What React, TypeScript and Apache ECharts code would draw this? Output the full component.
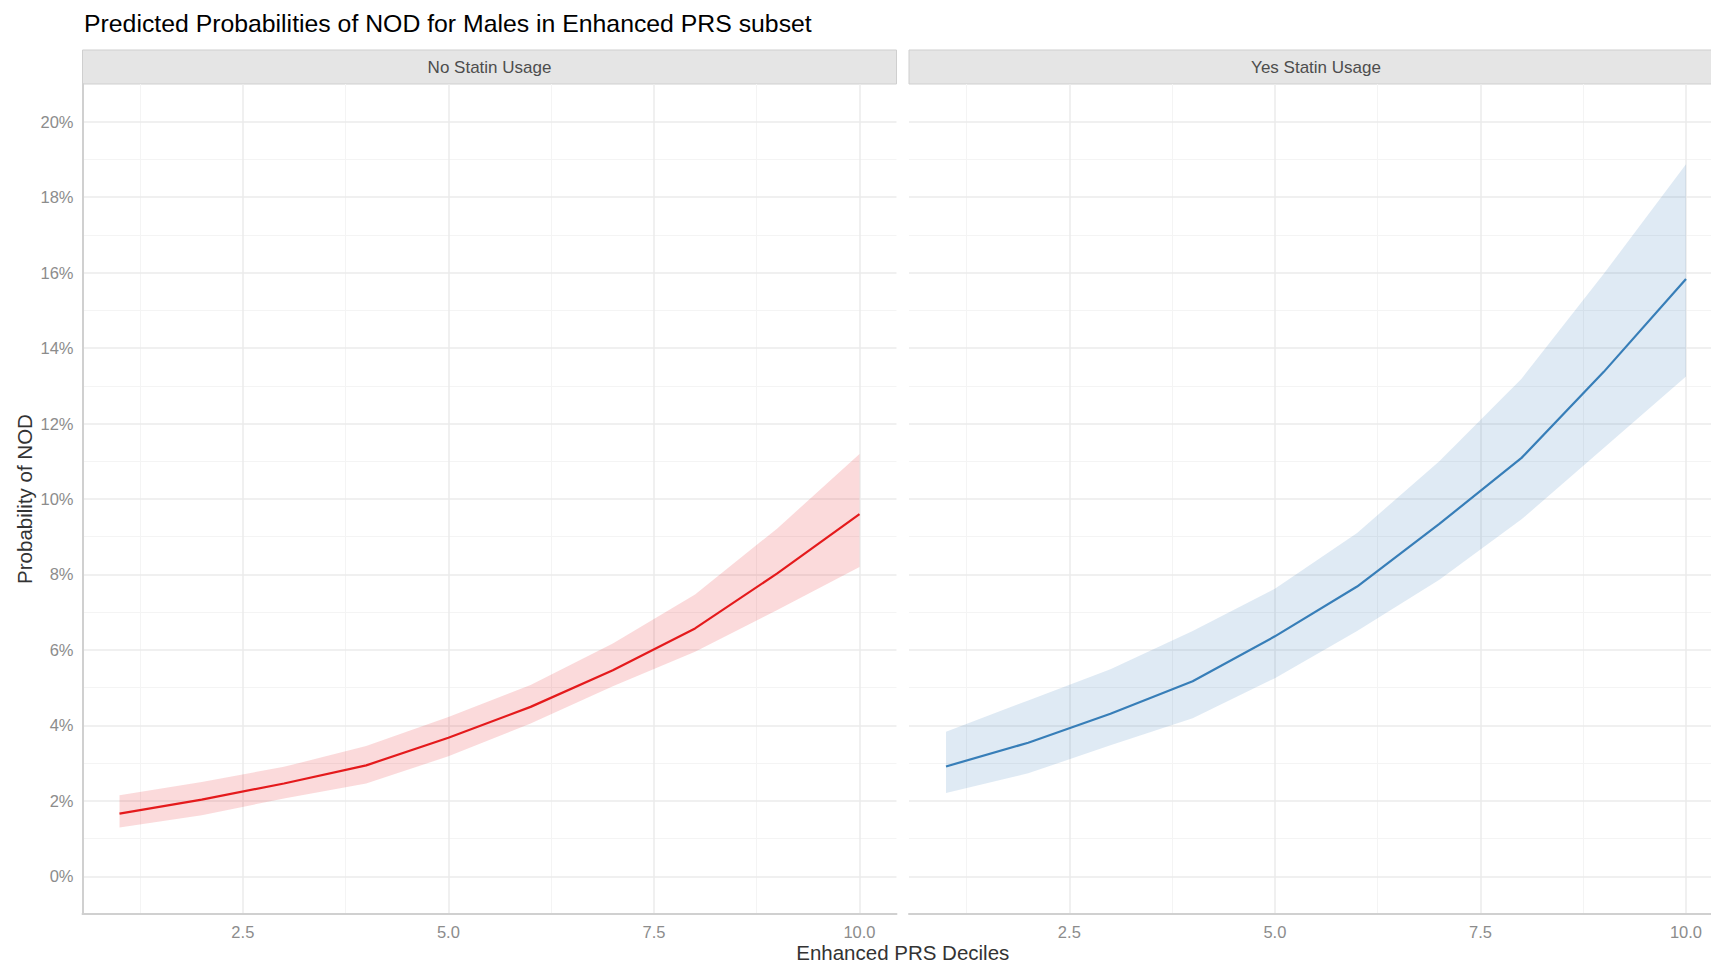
import React, { useEffect, useRef } from "react";
import * as echarts from "echarts";

// ---- data ----
const deciles = [1, 2, 3, 4, 5, 6, 7, 8, 9, 10];
const panels = ["No Statin Usage", "Yes Statin Usage"];

const noStatinMid = [0.0166, 0.0203, 0.0246, 0.0294, 0.0367, 0.0449, 0.0546, 0.0657, 0.0803, 0.096];
const noStatinLow = [0.0129, 0.0162, 0.0206, 0.0246, 0.0318, 0.0405, 0.0504, 0.0595, 0.0706, 0.082];
const noStatinHigh = [0.0215, 0.025, 0.029, 0.0345, 0.0422, 0.0507, 0.0617, 0.0747, 0.0922, 0.1119];

const statinMid = [0.0291, 0.0354, 0.0431, 0.0517, 0.0636, 0.0768, 0.0934, 0.1109, 0.1337, 0.1583];
const statinLow = [0.0221, 0.0273, 0.0347, 0.0419, 0.0525, 0.065, 0.0786, 0.0946, 0.1135, 0.1325];
const statinHigh = [0.0383, 0.0466, 0.0549, 0.065, 0.0762, 0.091, 0.11, 0.1319, 0.1597, 0.1887];

const xMajorTicks = [2.5, 5, 7.5, 10];
const xMinorTicks = [1.25, 3.75, 6.25, 8.75];
const yMajorTicks = [0, 0.02, 0.04, 0.06, 0.08, 0.1, 0.12, 0.14, 0.16, 0.18, 0.2];
const yMinorTicks = [0.01, 0.03, 0.05, 0.07, 0.09, 0.11, 0.13, 0.15, 0.17, 0.19];

const FONT = "'Liberation Sans', Arial, Helvetica, sans-serif";
const RED = "#E41A1C";
const BLUE = "#377EB8";

const GRID_TOP = 84;
const GRID_H = 830;
const GRID_W = 814;
const GRID_LEFTS = [82.5, 909];

function pairs(ys: number[]) {
  return deciles.map((x, i) => [x, ys[i]]);
}

function gridSeries(idx: number) {
  const major = { color: "#ebebeb", width: 1.5, type: "solid" };
  const minor = { color: "#f4f4f4", width: 1, type: "solid" };
  return {
    type: "line",
    xAxisIndex: idx,
    yAxisIndex: idx,
    data: pairs(noStatinMid),
    showSymbol: false,
    symbol: "none",
    silent: true,
    lineStyle: { opacity: 0 },
    z: 0,
    markLine: {
      silent: true,
      symbol: "none",
      z: 0,
      label: { show: false },
      animation: false,
      emphasis: { disabled: true },
      data: [
        ...xMinorTicks.map((v) => ({ xAxis: v, lineStyle: minor })),
        ...yMinorTicks.map((v) => ({ yAxis: v, lineStyle: minor })),
        ...xMajorTicks.map((v) => ({ xAxis: v, lineStyle: major })),
        ...yMajorTicks.map((v) => ({ yAxis: v, lineStyle: major })),
      ],
    },
  };
}

function panelSeries(idx: number, mid: number[], low: number[], high: number[], color: string) {
  return [
    {
      type: "custom",
      xAxisIndex: idx,
      yAxisIndex: idx,
      data: deciles.map((x, i) => [x, low[i], high[i]]),
      encode: { x: 0, y: [1, 2] },
      silent: true,
      z: 2,
      renderItem: (params: any, api: any) => {
        if (params.dataIndex !== 0) return null;
        const upper = deciles.map((x, i) => api.coord([x, high[i]]));
        const lower = deciles.map((x, i) => api.coord([x, low[i]])).reverse();
        return {
          type: "polygon",
          shape: { points: [...upper, ...lower] },
          style: { fill: color, opacity: 0.16 },
        };
      },
    },
    {
      type: "line",
      xAxisIndex: idx,
      yAxisIndex: idx,
      data: pairs(mid),
      symbol: "none",
      silent: true,
      lineStyle: { color, width: 2.2 },
      z: 3,
    },
  ];
}

export default function App() {
  const ref = useRef<HTMLDivElement>(null);

  useEffect(() => {
    if (!ref.current) return;
    const chart = echarts.init(ref.current, undefined, { renderer: "svg" });

    const axisLineStyle = { color: "#d0d0d0", width: 2 };

    const option: any = {
      animation: false,
      backgroundColor: "#ffffff",
      textStyle: { fontFamily: FONT },
      title: {
        text: "Predicted Probabilities of NOD for Males in Enhanced PRS subset",
        left: 84,
        top: 11,
        padding: 0,
        textStyle: { fontSize: 24.8, fontWeight: "normal", color: "#000000", fontFamily: FONT },
      },
      grid: GRID_LEFTS.map((l) => ({
        left: l,
        top: GRID_TOP,
        width: GRID_W,
        height: GRID_H,
        containLabel: false,
      })),
      xAxis: [0, 1].map((i) => ({
        type: "value",
        gridIndex: i,
        min: 0.55,
        max: 10.45,
        z: 1,
        axisLine: { show: true, onZero: false, lineStyle: axisLineStyle },
        axisTick: { show: false },
        splitLine: { show: false },
        axisLabel: {
          customValues: xMajorTicks,
          formatter: (v: number) => v.toFixed(1),
          color: "#8c8c8c",
          fontSize: 16.5,
          fontFamily: FONT,
          margin: 9,
        },
      })),
      yAxis: [0, 1].map((i) => ({
        type: "value",
        gridIndex: i,
        min: -0.01,
        max: 0.21,
        z: 1,
        name: i === 0 ? "Probability of NOD" : "",
        nameLocation: "middle",
        nameGap: 48,
        nameTextStyle: { fontSize: 20.5, color: "#333333", fontFamily: FONT },
        axisLine: { show: i === 0, onZero: false, lineStyle: axisLineStyle },
        axisTick: { show: false },
        splitLine: { show: false },
        axisLabel: {
          show: i === 0,
          customValues: yMajorTicks,
          formatter: (v: number) => Math.round(v * 100) + "%",
          color: "#8c8c8c",
          fontSize: 16.5,
          fontFamily: FONT,
          margin: 9,
        },
      })),
      graphic: [
        ...GRID_LEFTS.map((l) => ({
          type: "rect",
          shape: { x: l, y: 50, width: GRID_W, height: 34 },
          style: { fill: "#e5e5e5", stroke: "#cfcfcf", lineWidth: 1 },
          silent: true,
        })),
        ...GRID_LEFTS.map((l, i) => ({
          type: "text",
          x: l + GRID_W / 2,
          y: 67.5,
          style: {
            text: panels[i],
            fill: "#4d4d4d",
            font: `17px ${FONT}`,
            align: "center",
            verticalAlign: "middle",
          },
          silent: true,
        })),
        {
          type: "text",
          x: (GRID_LEFTS[0] + GRID_LEFTS[1] + GRID_W) / 2,
          y: 952.5,
          style: {
            text: "Enhanced PRS Deciles",
            fill: "#333333",
            font: `20.5px ${FONT}`,
            align: "center",
            verticalAlign: "middle",
          },
          silent: true,
        },
      ],
      series: [
        gridSeries(0),
        gridSeries(1),
        ...panelSeries(0, noStatinMid, noStatinLow, noStatinHigh, RED),
        ...panelSeries(1, statinMid, statinLow, statinHigh, BLUE),
      ],
    };

    chart.setOption(option);
    return () => {
      chart.dispose();
    };
  }, []);

  return (
    <div
      style={{
        position: "fixed",
        left: 0,
        top: 0,
        width: 1711,
        height: 964,
        overflow: "hidden",
        background: "#ffffff",
      }}
    >
      <div ref={ref} style={{ width: 1730, height: 964 }} />
    </div>
  );
}
